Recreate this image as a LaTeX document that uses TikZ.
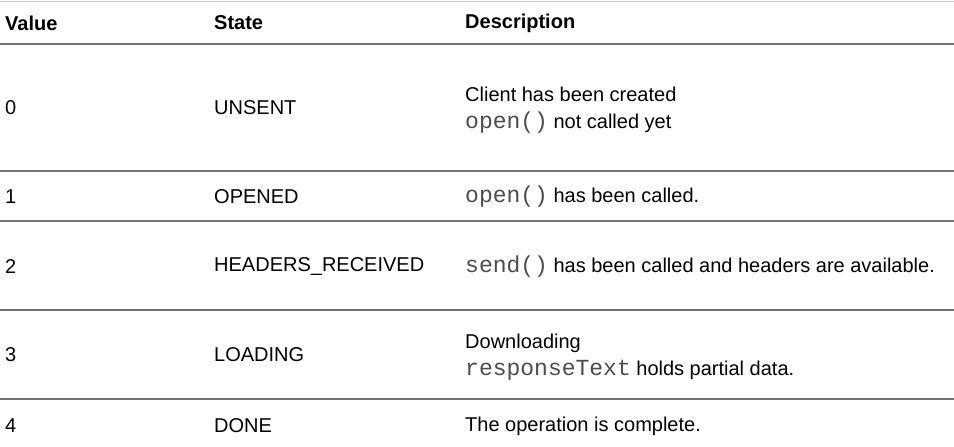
\documentclass[tikz,border=0pt]{standalone}
\usepackage{fontspec}
\setmainfont{Liberation Sans}
\setmonofont{Liberation Mono}
\begin{document}
\begin{tikzpicture}[x=1pt,y=-1pt,
  cell/.style={anchor=west,inner sep=0pt,font=\fontsize{20}{22}\selectfont},
  head/.style={cell,font=\fontsize{20}{22}\selectfont\bfseries},
  rule/.style={draw=black!55,line width=2pt}]
\useasboundingbox (0,0) rectangle (954,447);
\draw[black!20,line width=1pt] (0,1) -- (954,1);
\foreach \y in {44,171,221,310,399} \draw[rule] (0,\y) -- (954,\y);
\newcommand{\cd}[1]{{\fontsize{23}{24}\selectfont\ttfamily\color{black!70}#1}}
\node[head] (h1) at (5,23) {Value};
\node[head] (h2) at (214,23) {State};
\node[head] (h3) at (465,23) {Description};
\node[cell] (v0) at (5,108) {0};
\node[cell] (s0) at (214,108) {UNSENT};
\node[cell] (d0a) at (465,94) {Client has been created};
\node[cell] (d0b) at (465,123) {\cd{open()} not called yet};
\node[cell] (v1) at (5,197) {1};
\node[cell] (s1) at (214,197) {OPENED};
\node[cell] (d1) at (465,197) {\cd{open()} has been called.};
\node[cell] (v2) at (5,267) {2};
\node[cell] (s2) at (214,267) {HEADERS\_RECEIVED};
\node[cell] (d2) at (465,267) {\cd{send()} has been called and headers are available.};
\node[cell] (v3) at (5,355) {3};
\node[cell] (s3) at (214,355) {LOADING};
\node[cell] (d3a) at (465,343) {Downloading};
\node[cell] (d3b) at (465,370) {\cd{responseText} holds partial data.};
\node[cell] (v4) at (5,426) {4};
\node[cell] (s4) at (214,426) {DONE};
\node[cell] (d4) at (465,426) {The operation is complete.};
\end{tikzpicture}
\end{document}
